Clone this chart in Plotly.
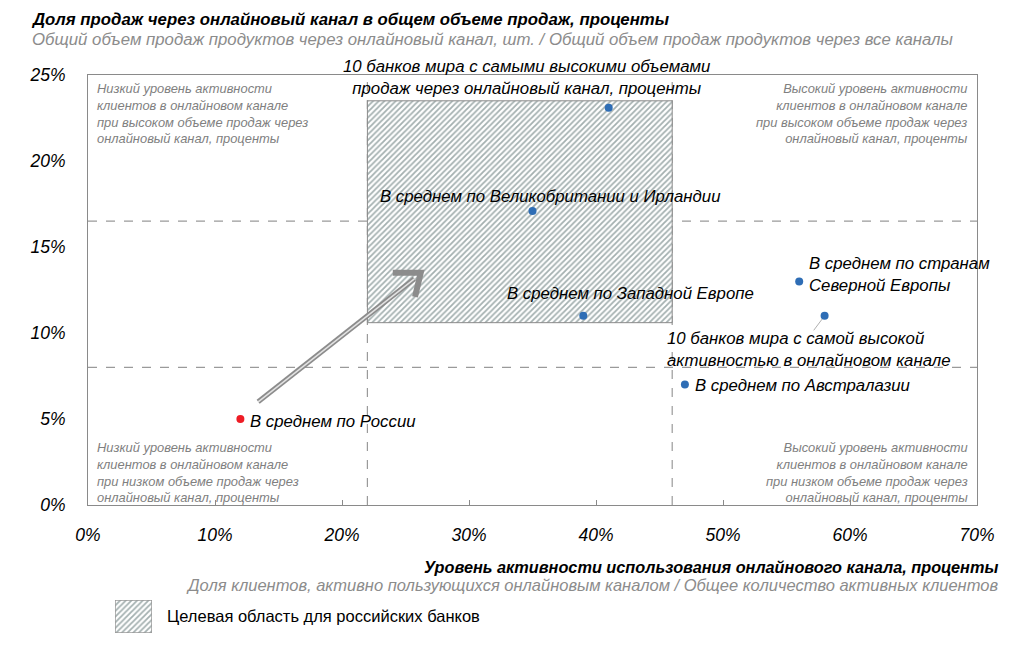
import plotly.graph_objects as go

# ---------------- data ----------------
point_labels = [
    "В среднем по России",
    "В среднем по Великобритании и Ирландии",
    "10 банков мира с самыми высокими объемами<br>продаж через онлайновый канал, проценты",
    "В среднем по Западной Европе",
    "В среднем по странам<br>Северной Европы",
    "10 банков мира с самой высокой<br>активностью в онлайновом канале",
    "В среднем по Австралазии",
]
activity = [12.0, 35.0, 41.0, 39.0, 56.0, 58.0, 47.0]      # x, %
online_share = [5.0, 17.1, 23.1, 11.0, 13.0, 11.0, 7.0]   # y, %
point_colors = ["#ee1c25", "#2e6db5", "#2e6db5", "#2e6db5", "#2e6db5", "#2e6db5", "#2e6db5"]

target_x = [22.0, 46.0]
target_y = [10.6, 23.5]
h_divider = 16.5
h_divider2 = 8.0
v_divider = 22.0
v_divider2 = 46.0

arrow_start = (13.4, 6.0)
arrow_end = (26.2, 13.5)

x_ticks = [0, 10, 20, 30, 40, 50, 60, 70]
y_ticks = [0, 5, 10, 15, 20, 25]

FONT = "Liberation Sans, Arial, sans-serif"
W, H = 1009, 661
L, R, T, B = 88, 977, 75, 505

def px(v):
    return v / W

def py(v):
    return 1 - v / H

HATCH = dict(shape="/", fgcolor="#4a6262", bgcolor="#ffffff", size=4, solidity=0.45)

fig = go.Figure()

# target area (hatched)
fig.add_trace(go.Scatter(
    x=[target_x[0], target_x[1], target_x[1], target_x[0], target_x[0]],
    y=[target_y[0], target_y[0], target_y[1], target_y[1], target_y[0]],
    mode="lines", fill="toself", fillcolor="rgba(0,0,0,0)", fillpattern=HATCH,
    line=dict(color="#8a8a8a", width=1),
    hoverinfo="skip", showlegend=False,
))

# legend swatch on its own small axes
fig.add_trace(go.Scatter(
    x=[0, 1, 1, 0, 0], y=[0, 0, 1, 1, 0], mode="lines", fill="toself",
    fillcolor="rgba(0,0,0,0)", fillpattern=HATCH,
    line=dict(color="#9a9a9a", width=1.5),
    xaxis="x2", yaxis="y2", showlegend=False, hoverinfo="skip",
))

# arrow shaft (double line look) and open chevron head
shaft_x = [arrow_start[0], arrow_end[0] - 0.5]
shaft_y = [arrow_start[1], arrow_end[1] - 0.35]
fig.add_trace(go.Scatter(x=shaft_x, y=shaft_y, mode="lines", line=dict(color="#8c8c8c", width=5),
                         hoverinfo="skip", showlegend=False))
fig.add_trace(go.Scatter(x=shaft_x, y=shaft_y, mode="lines", line=dict(color="#e2e2e2", width=1.5),
                         hoverinfo="skip", showlegend=False))
fig.add_trace(go.Scatter(x=[arrow_end[0] - 2.2, arrow_end[0], arrow_end[0] - 0.45],
                         y=[arrow_end[1], arrow_end[1], arrow_end[1] - 1.4],
                         mode="lines", line=dict(color="#8c8c8c", width=6), hoverinfo="skip", showlegend=False))

# points
fig.add_trace(go.Scatter(
    x=activity, y=online_share, mode="markers",
    marker=dict(color=point_colors, size=8),
    showlegend=False, hoverinfo="skip",
))

# divider lines
dash_style = dict(color="#9a9a9a", width=1.2, dash="dash")
for yv in [h_divider, h_divider2]:
    fig.add_shape(type="line", xref="x", yref="y", x0=0, x1=70, y0=yv, y1=yv, line=dash_style, layer="below")
for xv in [v_divider, v_divider2]:
    fig.add_shape(type="line", xref="x", yref="y", x0=xv, x1=xv, y0=0, y1=25, line=dash_style, layer="below")

# point labels
lbl_font = dict(family=FONT, size=16.8, color="#000000")
label_pos = [
    (248, 421, "left"),
    (378, 196, "left"),
    (526, 77, "center"),
    (505, 293, "left"),
    (807, 274, "left"),
    (665, 349, "left"),
    (693, 385, "left"),
]
for (lx, ly, al), txt in zip(label_pos, point_labels):
    fig.add_annotation(x=px(lx), y=py(ly), xref="paper", yref="paper",
                       text="<i>" + txt + "</i>", showarrow=False, font=lbl_font,
                       xanchor=al, yanchor="middle", align=al)

# leader line for top-10 activity
fig.add_annotation(x=activity[5], y=online_share[5], xref="x", yref="y",
                   ax=-12, ay=16, text="", showarrow=True, arrowhead=0,
                   arrowwidth=0.8, arrowcolor="#9a9a9a", standoff=4)

# quadrant texts
q_font = dict(family=FONT, size=12.9, color="#808080")
quad = [
    (95, 113, "left", "Низкий уровень активности<br>клиентов в онлайновом канале<br>при высоком объеме продаж через<br>онлайновый канал, проценты"),
    (970, 113, "right", "Высокий уровень активности<br>клиентов в онлайновом канале<br>при высоком объеме продаж через<br>онлайновый канал, проценты"),
    (95, 472, "left", "Низкий уровень активности<br>клиентов в онлайновом канале<br>при низком объеме продаж через<br>онлайновый канал, проценты"),
    (970, 472, "right", "Высокий уровень активности<br>клиентов в онлайновом канале<br>при низком объеме продаж через<br>онлайновый канал, проценты"),
]
for qx, qy, al, txt in quad:
    fig.add_annotation(x=px(qx), y=py(qy), xref="paper", yref="paper", text="<i>" + txt + "</i>",
                       showarrow=False, font=q_font, xanchor=al, yanchor="middle", align=al)

# titles
fig.add_annotation(x=px(29), y=py(20), xref="paper", yref="paper", xanchor="left", yanchor="middle",
                   text="<b><i>Доля продаж через онлайновый канал в общем объеме продаж, проценты</i></b>",
                   showarrow=False, font=dict(family=FONT, size=16.8, color="#000000"))
fig.add_annotation(x=px(30), y=py(39), xref="paper", yref="paper", xanchor="left", yanchor="middle",
                   text="<i>Общий объем продаж продуктов через онлайновый канал, шт. / Общий объем продаж продуктов через все каналы</i>",
                   showarrow=False, font=dict(family=FONT, size=16.8, color="#8c8c8c"))
fig.add_annotation(x=px(1000), y=py(567), xref="paper", yref="paper", xanchor="right", yanchor="middle",
                   text="<b><i>Уровень активности использования онлайнового канала, проценты</i></b>",
                   showarrow=False, font=dict(family=FONT, size=16.3, color="#000000"))
fig.add_annotation(x=px(1000), y=py(585), xref="paper", yref="paper", xanchor="right", yanchor="middle",
                   text="<i>Доля клиентов, активно пользующихся онлайновым каналом / Общее количество активных клиентов</i>",
                   showarrow=False, font=dict(family=FONT, size=16.5, color="#8c8c8c"))
fig.add_annotation(x=px(165), y=py(616), xref="paper", yref="paper", xanchor="left", yanchor="middle",
                   text="Целевая область для российских банков",
                   showarrow=False, font=dict(family=FONT, size=16.5, color="#000000"))

fig.update_layout(
    width=W, height=H,
    margin=dict(l=0, r=0, t=0, b=0, pad=0, autoexpand=False),
    paper_bgcolor="white", plot_bgcolor="white",
    showlegend=False,
    xaxis=dict(domain=[px(L), px(R)], range=[0, 70], tickvals=x_ticks,
               ticktext=["<i>%d%%</i>" % v for v in x_ticks],
               showgrid=False, zeroline=False, showline=True, mirror=True,
               linecolor="#8a8a8a", linewidth=1, ticks="inside", ticklen=5, tickcolor="#8a8a8a",
               tickfont=dict(family=FONT, size=17.5, color="#000000"), ticklabelstandoff=14,
               fixedrange=True),
    yaxis=dict(domain=[py(B), py(T)], range=[0, 25], tickvals=y_ticks,
               ticktext=["<i>%d%%</i>" % v for v in y_ticks],
               showgrid=False, zeroline=False, showline=True, mirror=True,
               linecolor="#8a8a8a", linewidth=1, ticks="",
               tickfont=dict(family=FONT, size=17.5, color="#000000"), ticklabelstandoff=18,
               fixedrange=True),
    xaxis2=dict(domain=[px(115), px(152)], range=[0, 1], visible=False, anchor="y2", fixedrange=True),
    yaxis2=dict(domain=[py(633), py(600)], range=[0, 1], visible=False, anchor="x2", fixedrange=True),
)

fig.write_html("out.html")
